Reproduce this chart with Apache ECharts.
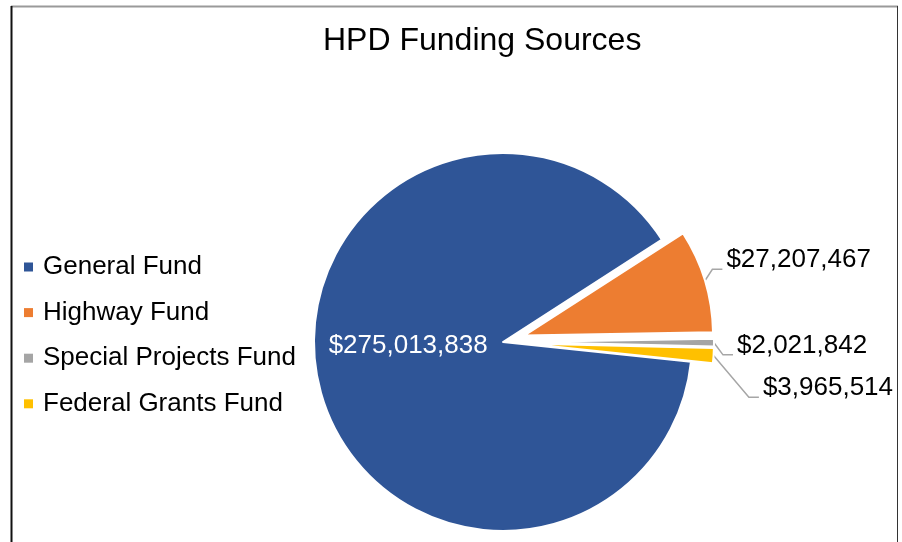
<!DOCTYPE html>
<html>
<head>
<meta charset="utf-8">
<script src="https://cdn.jsdelivr.net/npm/echarts@6/dist/echarts.min.js"></script>
<style>
  html, body { margin: 0; padding: 0; background: #fff; }
  #chart { width: 902px; height: 542px; }
</style>
</head>
<body>
<div id="chart"></div>
<script>
const funds = ['General Fund', 'Highway Fund', 'Special Projects Fund', 'Federal Grants Fund']
const amounts = [275013838, 27207467, 2021842, 3965514]
const colors = ['#2F5597', '#ED7D31', '#A5A5A5', '#FFC000']
const exploded = [false, true, true, true]
// nudges for the outside labels, to sit like the original's leader lines
const labelNudge = [[0, 0], [-5, -17], [1, 3], [29, 16]]

const font = 'Arial, "Liberation Sans", sans-serif'
const money = (v) => '$' + v.toLocaleString('en-US')

const chart = echarts.init(document.getElementById('chart'))

chart.setOption({
  animation: false,
  title: {
    text: 'HPD Funding Sources',
    left: 318,
    top: 20,
    textStyle: { fontFamily: font, fontSize: 32, fontWeight: 'normal', color: '#000' },
  },
  legend: {
    orient: 'vertical',
    left: 24,
    top: 254,
    padding: 0,
    icon: 'rect',
    itemWidth: 9,
    itemHeight: 9,
    itemGap: 19.6,
    selectedMode: false,
    itemStyle: { borderWidth: 0 },
    textStyle: { fontFamily: font, fontSize: 26, color: '#000', lineHeight: 26, padding: [0, 0, 0, 5] },
    data: funds,
  },
  graphic: [
    { type: 'line', shape: { x1: 11, y1: 6.5, x2: 898, y2: 6.5 }, style: { stroke: '#9a9a9a', lineWidth: 2 } },
    { type: 'line', shape: { x1: 11.5, y1: 6, x2: 11.5, y2: 542 }, style: { stroke: '#111', lineWidth: 2 } },
    { type: 'line', shape: { x1: 897.5, y1: 6, x2: 897.5, y2: 542 }, style: { stroke: '#333', lineWidth: 1 } },
  ],
  series: [
    {
      type: 'pie',
      center: [503, 342],
      radius: 189,
      startAngle: -6,
      clockwise: true,
      selectedMode: 'multiple',
      selectedOffset: 22,
      avoidLabelOverlap: true,
      emphasis: { disabled: true },
      itemStyle: { borderColor: '#fff', borderWidth: 2 },
      label: {
        show: true,
        position: 'outside',
        fontFamily: font,
        fontSize: 26,
        color: '#000',
        formatter: (p) => money(p.value),
      },
      labelLine: {
        show: true,
        length: 12,
        length2: 10,
        lineStyle: { color: '#A6A6A6', width: 1.5 },
      },
      labelLayout: (p) => {
        const [dx, dy] = labelNudge[p.dataIndex]
        if (!p.labelLinePoints) return { dx, dy }
        const r = p.labelRect
        const endX = r.x + dx - 4
        const endY = r.y + dy + r.height * 0.85
        return {
          dx,
          dy,
          labelLinePoints: [p.labelLinePoints[0], [endX - 10, endY], [endX, endY]],
        }
      },
      data: funds.map((name, i) => ({
        name,
        value: amounts[i],
        selected: exploded[i],
        itemStyle: { color: colors[i] },
        ...(i === 0
          ? { label: { position: 'inside', color: '#fff', offset: [0, -19] }, labelLine: { show: false } }
          : {}),
      })),
    },
  ],
})
</script>
</body>
</html>
